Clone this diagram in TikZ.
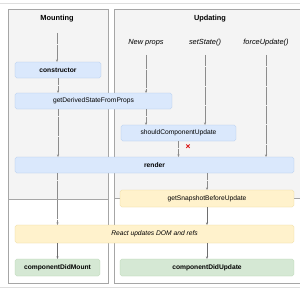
\documentclass[tikz,border=0pt]{standalone}
\usepackage{fontspec}
\setmainfont{Liberation Sans}
\usetikzlibrary{arrows.meta, positioning, calc}

\definecolor{panelfill}{HTML}{F4F4F4}
\definecolor{panelline}{HTML}{A6A6A6}
\definecolor{bluefill}{HTML}{DAE8FC}
\definecolor{blueline}{HTML}{A9C4EB}
\definecolor{yellowfill}{HTML}{FFF2CC}
\definecolor{yellowline}{HTML}{E8D48F}
\definecolor{greenfill}{HTML}{D5E8D4}
\definecolor{greenline}{HTML}{B3D1AA}
\definecolor{flowgray}{HTML}{6E6E6E}
\definecolor{dotgray}{HTML}{8C8C8C}

\begin{document}
\begin{tikzpicture}[
    x=0.05cm, y=-0.05cm,
    panel/.style={draw=panelline, line width=0.5pt},
    phase/.style={font=\fontsize{10.5}{12}\selectfont\bfseries},
    trigger/.style={font=\fontsize{10.5}{12}\selectfont\itshape},
    method/.style={rectangle, rounded corners=2.5pt, inner sep=0pt, minimum height=0.8cm, font=\fontsize{9.5}{11}\selectfont},
    bluebox/.style={method, draw=blueline, fill=bluefill},
    yellowbox/.style={method, draw=yellowline, fill=yellowfill},
    greenbox/.style={method, draw=greenline, fill=greenfill},
    flow/.style={draw=dotgray, dash pattern=on 0.6pt off 0.9pt, line width=0.4pt, -{Stealth[length=3.5pt, width=3pt]}},
    solidflow/.style={draw=flowgray, line width=0.6pt, -{Stealth[length=3.5pt, width=3pt]}},
  ]

    \clip (0,0) rectangle (300,300);
    \fill[white] (0,0) rectangle (300,300);

    % outer frame
    \draw[gray!25, line width=0.6pt] (-5,3) rectangle (305,287);

    % Mounting panel
    \fill[panelfill] (8,9) rectangle (108,199);
    \draw[panel] (8,9) rectangle (108,283);
    \draw[panel] (8,199) -- (108,199);

    % Updating panel
    \fill[panelfill] (114,9) rectangle (310,198);
    \draw[panel] (114,9) rectangle (310,283);
    \draw[panel] (114,198) -- (310,198);

    % Titles and triggers
    \node[phase] (mounting) at (57,19) {Mounting};
    \node[phase] (updating) at (210,19) {Updating};
    \node[trigger] (newprops) at (146,43) {New props};
    \node[trigger] (setstate) at (205,43) {setState()};
    \node[trigger] (forceupdate) at (266,43) {forceUpdate()};

    % Lifecycle methods
    \node[bluebox, minimum width=4.3cm, font=\fontsize{9.5}{11}\selectfont\bfseries] (constructor) at (58,70) {constructor};
    \node[bluebox, minimum width=7.85cm] (gdsfp) at (93.5,101) {getDerivedStateFromProps};
    \node[bluebox, minimum width=5.75cm] (scu) at (178.5,133) {shouldComponentUpdate};
    \node[bluebox, minimum width=13.95cm, font=\fontsize{9.5}{11}\selectfont\bfseries] (render) at (154.5,165) {render};
    \node[yellowbox, minimum width=8.7cm, minimum height=0.85cm] (gsbu) at (207,198.5) {getSnapshotBeforeUpdate};
    \node[yellowbox, minimum width=13.95cm, minimum height=0.9cm, font=\fontsize{9.5}{11}\selectfont\itshape] (react) at (154.5,234) {React updates DOM and refs};
    \node[greenbox, minimum width=4.25cm, minimum height=0.85cm, font=\fontsize{9.5}{11}\selectfont\bfseries] (cdm) at (57.5,267.5) {componentDidMount};
    \node[greenbox, minimum width=8.7cm, minimum height=0.85cm, font=\fontsize{9.5}{11}\selectfont\bfseries] (cdu) at (207,267.5) {componentDidUpdate};

    % Mounting flow
    \draw[flow, shorten <=0.4cm] (mounting) -- (mounting |- constructor.north);
    \draw[flow] (constructor.south) -- (constructor.south |- gdsfp.north);
    \draw[flow] (constructor.south |- gdsfp.south) -- (constructor.south |- render.north);
    \draw[flow] (cdm.north |- render.south) -- (cdm.north |- react.north);
    \draw[solidflow] (cdm.north |- react.south) -- (cdm.north);

    % Updating flow
    \draw[flow, shorten <=0.3cm] (newprops) -- (newprops |- gdsfp.north);
    \draw[flow] (newprops |- gdsfp.south) -- (newprops |- scu.north);
    \draw[flow, shorten <=0.3cm] (setstate) -- (setstate |- scu.north);
    \draw[flow, shorten <=0.3cm] (forceupdate) -- (forceupdate |- render.north);
    \draw[flow] (scu.south) -- (scu.south |- render.north);
    \node[text=red!85!black, font=\fontsize{12}{12}\selectfont\bfseries] (nocheck) at (188,147) {×};
    \draw[flow] (gsbu.north |- render.south) -- (gsbu.north);
    \draw[solidflow] (gsbu.south) -- (gsbu.south |- react.north);
    \draw[solidflow] (cdu.north |- react.south) -- (cdu.north);

  \end{tikzpicture}
\end{document}
